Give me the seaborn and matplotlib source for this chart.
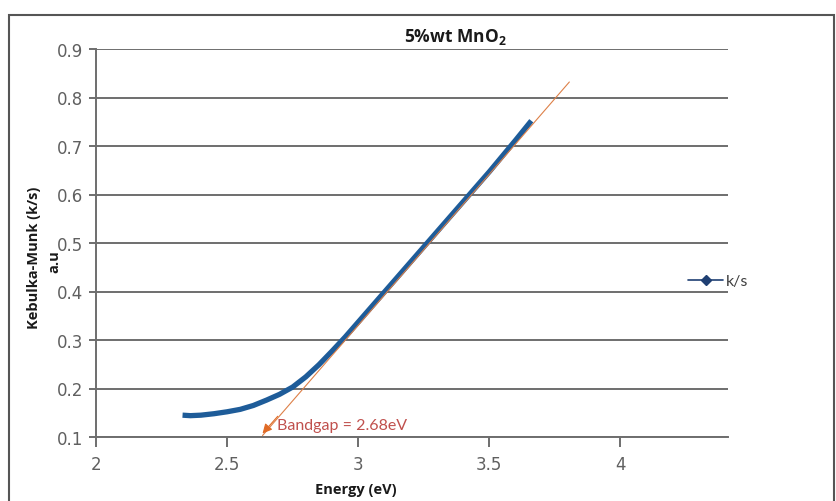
import matplotlib
matplotlib.use("Agg")
import matplotlib.pyplot as plt
from matplotlib.lines import Line2D
from matplotlib.patches import Rectangle
import seaborn as sns
import pandas as pd

# ---- data ----
energy = [2.33, 2.36, 2.40, 2.45, 2.50, 2.55, 2.60, 2.65, 2.70, 2.75, 2.80,
          2.85, 2.90, 2.95, 3.00, 3.10, 3.20, 3.30, 3.40, 3.50, 3.60, 3.66]
ks = [0.145, 0.144, 0.145, 0.148, 0.152, 0.157, 0.165, 0.176, 0.188, 0.203,
      0.224, 0.249, 0.277, 0.306, 0.337, 0.399, 0.461, 0.523, 0.585, 0.647,
      0.712, 0.752]
trend_x = [2.635, 3.805]
trend_y = [0.103, 0.832]
x_ticks = [2, 2.5, 3, 3.5, 4]
x_tick_labels = ["2", "2.5", "3", "3.5", "4"]
y_ticks = [0.1, 0.2, 0.3, 0.4, 0.5, 0.6, 0.7, 0.8, 0.9]
y_tick_labels = ["0.1", "0.2", "0.3", "0.4", "0.5", "0.6", "0.7", "0.8", "0.9"]
series_name = "k/s"
title = "5%wt MnO$_\\mathregular{2}$"
bandgap_label = "Bandgap = 2.68eV"

sns.set_style("white")
plt.rcParams["font.family"] = ["DejaVu Sans"]

BOLD = ["Open Sans", "DejaVu Sans"]
REG = ["Lato", "DejaVu Sans"]

W, H = 837, 502
fig = plt.figure(figsize=(W / 100, H / 100), dpi=100)
ax = fig.add_axes([96 / W, 1 - 438 / H, (728 - 96) / W, (438 - 50) / H])

df = pd.DataFrame({"Energy": energy, "ks": ks})
tr = pd.DataFrame({"x": trend_x, "y": trend_y})

sns.lineplot(data=df, x="Energy", y="ks", ax=ax, color="#1E5C99",
             linewidth=3.8, solid_capstyle="butt", zorder=3)
sns.lineplot(data=tr, x="x", y="y", ax=ax, color="#DD8048", linewidth=0.8,
             zorder=4)

ax.annotate("", xy=(2.628, 0.103), xytext=(2.70, 0.147),
            arrowprops=dict(arrowstyle="-|>", color="#E06A25", lw=0.8,
                            mutation_scale=14), zorder=5)
ax.text(2.69, 0.124, bandgap_label, color="#C0504D", fontsize=11.5,
        family=REG, va="center", ha="left")

ax.set_xlim(2, 4.41)
ax.set_ylim(0.1, 0.9)
ax.set_xticks(x_ticks)
ax.set_xticklabels(x_tick_labels)
ax.set_yticks(y_ticks)
ax.set_yticklabels(y_tick_labels)
ax.grid(axis="y", color="#6E6E6E", linewidth=1.4)
ax.set_axisbelow(True)
for s in ["top", "right"]:
    ax.spines[s].set_visible(False)
for s in ["left", "bottom"]:
    ax.spines[s].set_color("#6E6E6E")
    ax.spines[s].set_linewidth(1.4)
ax.tick_params(axis="x", direction="out", length=7, width=1.4,
               color="#6E6E6E", labelsize=12, labelcolor="#606060", pad=6,
               bottom=True)
ax.tick_params(axis="y", direction="out", length=5, width=1.4,
               color="#6E6E6E", labelsize=12, labelcolor="#606060", pad=4,
               left=True)
ax.set_xlabel("")
ax.set_ylabel("")

handle = Line2D([0], [0], color="#1F3F73", marker="D", markersize=5,
                linewidth=1.2)
leg = ax.legend([handle], [series_name], loc="center left",
                bbox_to_anchor=(0.937, 0.402), frameon=False, fontsize=11.5,
                handlelength=2.2, handletextpad=0.15, borderpad=0,
                borderaxespad=0)
for t in leg.get_texts():
    t.set_color("#404040")
    t.set_family(REG)

fig.text(455 / W, 1 - 37 / H, title, ha="center", va="center",
         fontsize=12.5, fontweight="bold", family=BOLD, color="#1A1A1A")
fig.text(356 / W, 1 - 490 / H, "Energy (eV)", ha="center", va="center",
         fontsize=10.5, fontweight="bold", family=BOLD, color="#1A1A1A")
fig.text(34 / W, 1 - 258 / H, "Kebulka-Munk (k/s)", ha="center",
         va="center", rotation=90, fontsize=10.5, fontweight="bold",
         family=BOLD, color="#1A1A1A")
fig.text(54 / W, 1 - 262 / H, "a.u", ha="center", va="center",
         rotation=90, fontsize=10.5, fontweight="bold",
         family=BOLD, color="#1A1A1A")

fig.patches.append(Rectangle((9 / W, -0.05), (834 - 9) / W,
                             1.05 - 16 / H, transform=fig.transFigure,
                             fill=False, edgecolor="#555555", linewidth=1.5))

fig.savefig("out.png", dpi=100)
